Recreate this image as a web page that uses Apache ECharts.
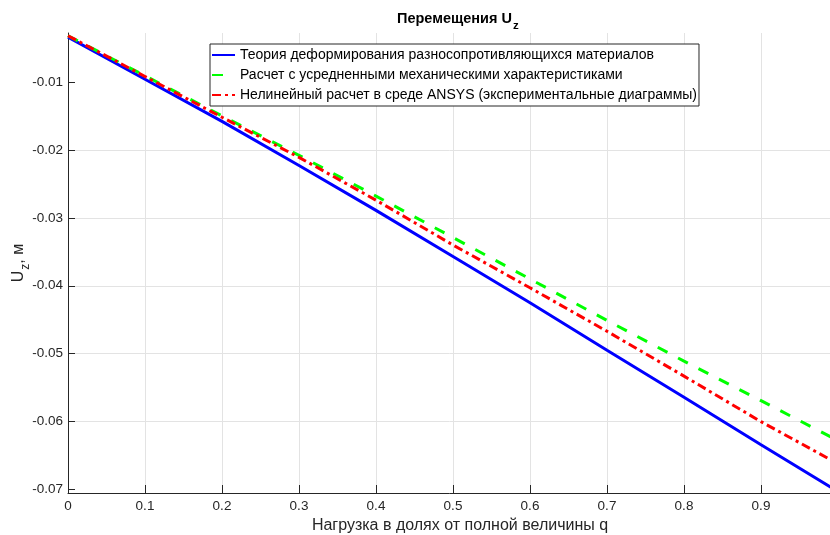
<!DOCTYPE html>
<html><head><meta charset="utf-8">
<script src="https://cdn.jsdelivr.net/npm/echarts@6/dist/echarts.min.js"></script>
<style>html,body{margin:0;padding:0;background:#fff}#c{width:830px;height:535px}</style>
</head><body><div id="c"></div>
<script>
const loadFraction = [0, 0.1, 0.2, 0.3, 0.4, 0.5, 0.6, 0.7, 0.8, 0.9, 1.0];
const theoryUz   = [-0.0034, -0.0096, -0.0158, -0.0223, -0.0289, -0.0357, -0.0425, -0.0495, -0.0564, -0.0634, -0.0703];
const averagedUz = [-0.0032, -0.0091, -0.0150, -0.0208, -0.0268, -0.0329, -0.0390, -0.0451, -0.0511, -0.0569, -0.0628];
const ansysUz    = [-0.0032, -0.0092, -0.0152, -0.0211, -0.0274, -0.0340, -0.0403, -0.0467, -0.0533, -0.0600, -0.0662];
const xTicks = [0, 0.1, 0.2, 0.3, 0.4, 0.5, 0.6, 0.7, 0.8, 0.9, 1];
const yTicks = [-0.07, -0.06, -0.05, -0.04, -0.03, -0.02, -0.01];
const seriesNames = [
  'Теория деформирования разносопротивляющихся материалов',
  'Расчет с усредненными механическими характеристиками',
  'Нелинейный расчет в среде ANSYS (экспериментальные диаграммы)'
];
const FONT = '"Liberation Sans", Arial, Helvetica, sans-serif';
const AX = '#262626';
const pairs = ys => loadFraction.map((x, i) => [x, ys[i]]);

const chart = echarts.init(document.getElementById('c'), null, {renderer: 'canvas'});
chart.setOption({
  animation: false,
  backgroundColor: '#fff',
  textStyle: {fontFamily: FONT},
  title: {
    text: '{a|Перемещения U}{b|z}',
    left: 392, top: 6,
    textStyle: {
      rich: {
        a: {fontFamily: FONT, fontSize: 14.5, fontWeight: 'bold', color: '#000', verticalAlign: 'top', lineHeight: 16},
        b: {fontFamily: FONT, fontSize: 11.5, fontWeight: 'bold', color: '#000', verticalAlign: 'top', lineHeight: 12, padding: [9, 0, 0, 1]}
      }
    }
  },
  grid: {left: 68, top: 33, width: 770, height: 460, containLabel: false, outerBoundsMode: 'none'},
  legend: {
    orient: 'vertical', left: 210, top: 44,
    itemWidth: 23, itemHeight: 12, itemGap: 6,
    padding: [4, 2, 4, 1],
    borderColor: AX, borderWidth: 1, backgroundColor: '#fff',
    itemStyle: {opacity: 0},
    textStyle: {fontFamily: FONT, fontSize: 14, color: '#000'},
    data: seriesNames
  },
  xAxis: {
    type: 'value', min: 0, max: 1,
    name: 'Нагрузка в долях от полной величины q',
    nameLocation: 'middle', nameGap: 25, nameMoveOverlap: false,
    nameTextStyle: {fontFamily: FONT, fontSize: 16, color: AX, verticalAlign: 'top', padding: [0, 0, 0, 14]},
    axisLine: {show: true, onZero: false, lineStyle: {color: AX, width: 1}},
    axisTick: {show: true, inside: true, length: 8, lineStyle: {color: AX}, customValues: xTicks},
    axisLabel: {fontFamily: FONT, fontSize: 13.5, color: AX, margin: 6, customValues: xTicks,
      formatter: v => v === 0 ? '0' : (Math.round(v * 10) / 10).toString()},
    splitLine: {show: true, showMinLine: false, showMaxLine: false, lineStyle: {color: '#e3e3e3', width: 1}}
  },
  yAxis: {
    type: 'value', min: -0.0705, max: -0.0028,
    name: '{a|U}{b|z}{a|, м}',
    nameLocation: 'middle', nameGap: 39, nameRotate: 90, nameMoveOverlap: false,
    nameTextStyle: {
      rich: {
        a: {fontFamily: FONT, fontSize: 16, color: AX, verticalAlign: 'top', lineHeight: 18},
        b: {fontFamily: FONT, fontSize: 12, color: AX, verticalAlign: 'top', lineHeight: 13, padding: [9, 0, 0, 1]}
      }
    },
    axisLine: {show: true, onZero: false, lineStyle: {color: AX, width: 1}},
    axisTick: {show: true, inside: true, length: 7, lineStyle: {color: AX}, customValues: yTicks},
    axisLabel: {fontFamily: FONT, fontSize: 13.5, color: AX, margin: 5, customValues: yTicks,
      formatter: v => v.toFixed(2)},
    splitLine: {show: true, showMinLine: false, showMaxLine: false, lineStyle: {color: '#e3e3e3', width: 1}}
  },
  series: [
    {name: seriesNames[0], type: 'line', data: pairs(theoryUz), showSymbol: false, symbol: 'none', clip: true,
     lineStyle: {color: '#0000ff', width: 3, type: 'solid'}, itemStyle: {color: '#0000ff'}, z: 2},
    {name: seriesNames[1], type: 'line', data: pairs(averagedUz), showSymbol: false, symbol: 'none', clip: true,
     lineStyle: {color: '#00ff00', width: 3, type: [11, 12]}, itemStyle: {color: '#00ff00'}, z: 3},
    {name: seriesNames[2], type: 'line', data: pairs(ansysUz), showSymbol: false, symbol: 'none', clip: true,
     lineStyle: {color: '#ff0000', width: 3, type: [9, 4, 3, 4]}, itemStyle: {color: '#ff0000'}, z: 4}
  ]
});
</script></body></html>
